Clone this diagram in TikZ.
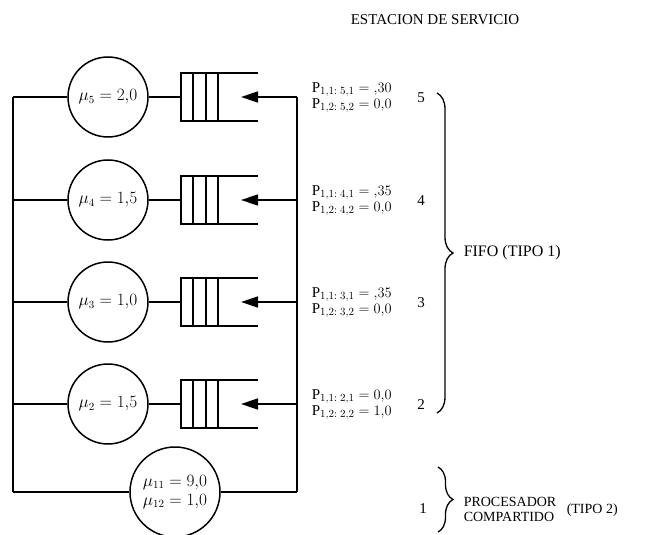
\documentclass[tikz,border=0pt]{standalone}
\usepackage{fontspec}
\setmainfont{Liberation Serif}
\usetikzlibrary{arrows.meta,positioning,calc,decorations.pathreplacing}

\begin{document}
\begin{tikzpicture}[x=1pt,y=-1pt,line width=1.5pt,
    server/.style={draw,circle,minimum size=80pt,inner sep=0pt,font=\fontsize{16}{16}\selectfont},
    prob/.style={anchor=west,inner sep=0pt,font=\fontsize{15}{15}\selectfont},
    lbl/.style={inner sep=0pt,font=\fontsize{15}{15}\selectfont},
    brc/.style={decorate,decoration={brace,amplitude=16pt},line width=1.3pt}]
  \useasboundingbox (0,0) rectangle (651,535);

  \node[lbl] (title) at (435,20) {ESTACION DE SERVICIO};

  % outer frame
  \coordinate (lt) at (13,97);
  \coordinate (lb) at (13,492);
  \coordinate (rt) at (297,97);
  \coordinate (rb) at (297,492);
  \draw (lt) -- (lb);
  \draw (rt) -- (rb);

  % FIFO stations
  \foreach \n/\yy/\val/\pa/\pb in {5/97/{2{,}0}/{{,}30}/{0{,}0},4/200/{1{,}5}/{{,}35}/{0{,}0},
                                    3/302/{1{,}0}/{{,}35}/{0{,}0},2/404/{1{,}5}/{0{,}0}/{1{,}0}} {
    \node[server] (s\n) at (108,\yy) {$\mu_{\n} = \val$};
    \coordinate (l\n) at (13,\yy);
    \coordinate (r\n) at (297,\yy);
    \coordinate (q\n) at (181,\yy);
    \coordinate (t\n) at (241,\yy);
    \draw (258,\yy-24) -- (181,\yy-24) -- (181,\yy+24) -- (258,\yy+24);
    \draw (193,\yy-24) -- (193,\yy+24);
    \draw (206,\yy-24) -- (206,\yy+24);
    \draw (218,\yy-24) -- (218,\yy+24);
    \draw (l\n) -- (s\n);
    \draw (s\n) -- (q\n);
    \draw[-{Triangle[length=17pt,width=11pt]}] (r\n) -- (t\n);
    \node[prob] (pa\n) at (311,\yy-7) {$\mathrm{P}_{1,1:\;\n,1} = \pa$};
    \node[prob] (pb\n) at (311,\yy+9) {$\mathrm{P}_{1,2:\;\n,2} = \pb$};
    \node[lbl] (k\n) at (421,\yy+1) {\n};
  }

  % processor sharing
  \node[server,minimum size=90pt,align=center] (s1) at (175,492)
    {$\mu_{11} = 9{,}0$\\[3pt]$\mu_{12} = 1{,}0$};
  \draw (lb) -- (s1);
  \draw (s1) -- (rb);

  \draw[brc] (437,93) -- (437,413);
  \node[lbl,anchor=west,font=\fontsize{16}{16}\selectfont] (fifo) at (463,253) {FIFO (TIPO 1)};

  \node[lbl] (k1) at (423,509) {1};
  \draw[brc,decoration={amplitude=15pt}] (438,467) -- (438,532);
  \node[lbl,anchor=west,align=left,font=\fontsize{14}{15}\selectfont] (ps) at (463,509) {PROCESADOR\\COMPARTIDO};
  \node[lbl,anchor=west,font=\fontsize{14}{14}\selectfont] (t2) at (566,510) {(TIPO 2)};
\end{tikzpicture}
\end{document}
